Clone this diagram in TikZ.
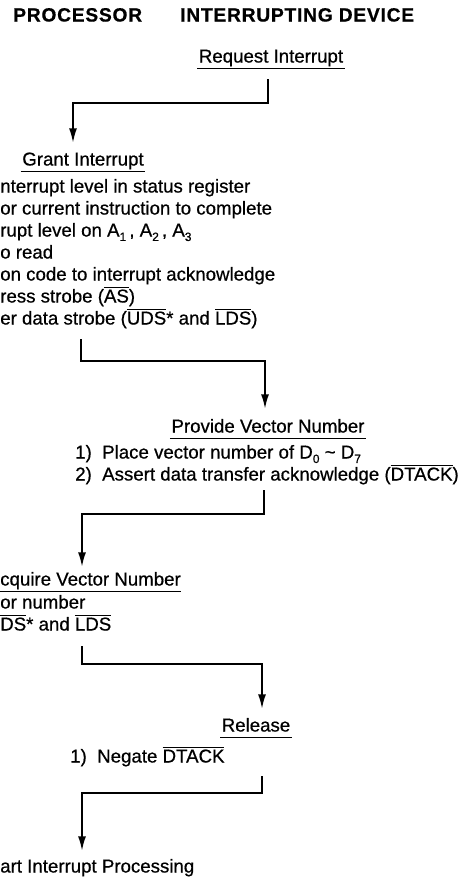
\documentclass[tikz,border=0pt]{standalone}
\usepackage{fontspec}
\setmainfont{Liberation Sans}[FakeBold=0.6]
\newfontfamily\wideface{Liberation Sans}[LetterSpace=4,FakeBold=0.6]
\usetikzlibrary{arrows.meta,calc}
\newcommand{\negsig}[1]{$\overline{\mbox{#1}}$}
\newcommand{\lowidx}[1]{\raisebox{-0.45ex}{\fontsize{9}{9}\selectfont #1}}

\begin{document}
\begin{tikzpicture}[x=0.75pt, y=-0.75pt,
    title/.style={font=\fontsize{14.4}{16}\selectfont\wideface\bfseries, inner sep=0pt, anchor=mid west},
    hdr/.style={font=\fontsize{14}{16}\selectfont, inner sep=1pt, text depth=3.2pt},
    item/.style={font=\fontsize{14}{16}\selectfont, inner sep=0pt, anchor=mid west},
    uline/.style={line width=1pt},
    flow/.style={line width=1.5pt, -{Latex[length=11pt, width=6pt]}}
]
\useasboundingbox (0,0) rectangle (466,878);

% column titles
\node[title] (proc) at (13,18) {PROCESSOR};
\node[title] (dev) at (180,18) {INTERRUPTING DEVICE};

% device: request
\node[hdr, anchor=mid] (req) at (271,59) {Request Interrupt};
\draw[uline] (req.south west) -- (req.south east);

% processor: grant
\node[hdr, anchor=mid] (grant) at (83,162) {Grant Interrupt};
\draw[uline] (grant.south west) -- (grant.south east);
\node[item] (g1) at (0,189) {nterrupt level in status register};
\node[item] (g2) at (0,211) {or current instruction to complete};
\node[item] (g3) at (0,233) {rupt level on A\lowidx{1}\,, A\lowidx{2}\,, A\lowidx{3}};
\node[item] (g4) at (0,255) {o read};
\node[item] (g5) at (0,277) {on code to interrupt acknowledge};
\node[item] (g6) at (0,299) {ress strobe (\negsig{AS})};
\node[item] (g7) at (0,321) {er data strobe (\negsig{UDS}* and \negsig{LDS})};

% device: vector number
\node[hdr, anchor=mid] (prov) at (268,429) {Provide Vector Number};
\draw[uline] (prov.south west) -- (prov.south east);
\node[item] (p1) at (75,455) {1)\ \ Place vector number of D\lowidx{0} \textasciitilde\ D\lowidx{7}};
\node[item] (p2) at (75,477) {2)\ \ Assert data transfer acknowledge (\negsig{DTACK})};

% processor: acquire
\node[hdr, anchor=mid west, inner xsep=0pt] (acq) at (0,582) {cquire Vector Number};
\draw[uline] (acq.south west) -- (acq.south east);
\node[item] (a1) at (0,605) {or number};
\node[item] (a2) at (0,627) {\negsig{DS}* and \negsig{LDS}};

% device: release
\node[hdr, anchor=mid] (rel) at (256,728) {Release};
\draw[uline] (rel.south west) -- (rel.south east);
\node[item] (r1) at (70,759) {1)\ \ Negate \negsig{DTACK}};

% processor: start
\node[item] (go) at (0,869) {art Interrupt Processing};

% handshake links
\coordinate (s1) at (268,79);  \coordinate (t1) at (73,143);
\coordinate (s2) at (81,339);  \coordinate (t2) at (265,409);
\coordinate (s3) at (264,490); \coordinate (t3) at (82,567);
\coordinate (s4) at (82,646);  \coordinate (t4) at (262,709);
\coordinate (s5) at (262,776); \coordinate (t5) at (82,851);
\draw[flow] (s1) -- ++(0,24) -| (t1);
\draw[flow] (s2) -- ++(0,22) -| (t2);
\draw[flow] (s3) -- ++(0,24) -| (t3);
\draw[flow] (s4) -- ++(0,18) -| (t4);
\draw[flow] (s5) -- ++(0,17) -| (t5);
\end{tikzpicture}
\end{document}
